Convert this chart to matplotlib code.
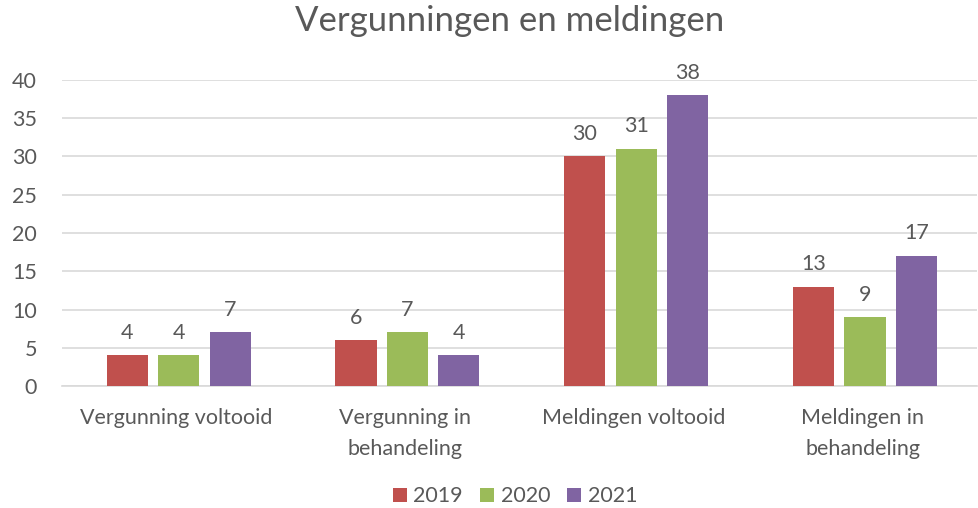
import numpy as np
import matplotlib.pyplot as plt

categories = ["Vergunning voltooid", "Vergunning in\nbehandeling",
              "Meldingen voltooid", "Meldingen in\nbehandeling"]
years = ["2019", "2020", "2021"]
values_2019 = [4, 6, 30, 13]
values_2020 = [4, 7, 31, 9]
values_2021 = [7, 4, 38, 17]
colors = ["#C0504D", "#9BBB59", "#8064A2"]

text_color = "#595959"
plt.rcParams["font.family"] = ["Lato", "DejaVu Sans"]

fig = plt.figure(figsize=(9.79, 5.08), dpi=100)
ax = fig.add_axes([62 / 979, 122 / 508, 915 / 979, 306 / 508])

x = np.arange(len(categories))
width = 0.18
step = 0.225
series = [values_2019, values_2020, values_2021]
for i, (vals, year, col) in enumerate(zip(series, years, colors)):
    bars = ax.bar(x + (i - 1) * step + 0.01, vals, width, color=col, label=year, zorder=3)
    ax.bar_label(bars, padding=9, fontsize=15.5, color=text_color)

ax.set_xlim(-0.5, len(categories) - 0.5)
ax.set_ylim(0, 40)
ax.set_yticks(range(0, 41, 5))
ax.grid(axis="y", color="#D9D9D9", linewidth=1.2, zorder=0)
for s in ["top", "right", "left"]:
    ax.spines[s].set_visible(False)
ax.spines["bottom"].set_color("#D9D9D9")
ax.spines["bottom"].set_linewidth(1.2)
ax.tick_params(axis="both", length=0, labelsize=15.5, colors=text_color)
ax.tick_params(axis="y", pad=18)
ax.tick_params(axis="x", pad=16)
ax.set_xticks(x)
ax.set_xticklabels(categories, linespacing=1.65)

fig.suptitle("Vergunningen en meldingen", x=510 / 979, y=0.99, fontsize=25, color=text_color)
fig.legend(loc="lower center", bbox_to_anchor=(515 / 979, -0.035), ncol=3, frameon=False,
           fontsize=15.5, labelcolor=text_color, handlelength=0.65, handleheight=0.65,
           handletextpad=0.3, columnspacing=0.8)

fig.savefig("out.png", dpi=100)
